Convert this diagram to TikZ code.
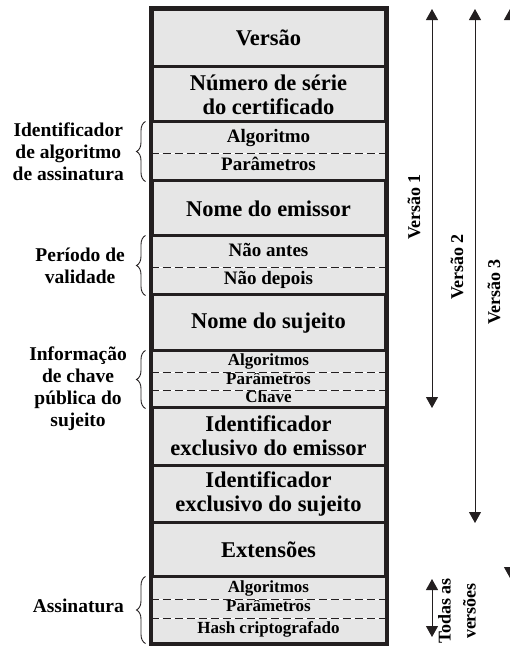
\documentclass[tikz,border=0pt]{standalone}
\usepackage{fontspec}
\setmainfont{Liberation Serif}
\usetikzlibrary{arrows.meta,positioning,fit,decorations.pathreplacing}
\definecolor{CertGray}{HTML}{E6E6E6}
\definecolor{CertInk}{HTML}{231F20}
\tikzset{
    % Main field of the certificate
    fieldnode/.style={
        draw=CertInk,
        fill=CertGray,
        line width=3pt,
        minimum width=233pt,
        inner sep=0pt,
        align=center,
        font=\fontsize{22.5}{24}\selectfont\bfseries
    },
    % Sub-field inside a group
    subnode/.style={
        fieldnode,
        draw=none,
        font=\fontsize{19}{20}\selectfont\bfseries,
        text height=13pt,
        text depth=4pt
    },
    % Small sub-field (key and signature)
    keynode/.style={
        subnode,
        font=\fontsize{17}{18}\selectfont\bfseries,
        text height=11.5pt,
        text depth=3.5pt
    },
    % Frame round a group of sub-fields
    groupbox/.style={
        draw=CertInk,
        line width=3pt,
        inner sep=0pt
    },
    % Dashed separator
    dashline/.style={
        draw=CertInk,
        line width=1.5pt,
        dash pattern=on 8pt off 4pt,
        preaction={draw=white, solid, line width=1.5pt}
    },
    % Label on the left
    sidelabel/.style={
        anchor=east,
        align=center,
        inner sep=0pt,
        font=\fontsize{19.5}{22}\selectfont\bfseries
    },
    % Curly brace
    sidebrace/.style={
        draw=CertInk,
        line width=0.9pt,
        decorate,
        decoration={brace, amplitude=9pt}
    },
    % Version arrow
    biarrow/.style={
        <->,
        >={Triangle[width=12pt,length=11pt]},
        line width=1pt,
        draw=CertInk
    },
    % Version label
    verlabel/.style={
        rotate=90,
        align=center,
        inner sep=0pt,
        font=\fontsize{18}{25}\selectfont\bfseries
    }
}
\begin{document}
\begin{tikzpicture}[x=1pt, y=-1pt]
    \useasboundingbox (0,0) rectangle (510,646);

    % Fields
    \node[fieldnode, minimum height=57pt] (versao) at (268.5,37.5) {Versão};
    \node[fieldnode, minimum height=57pt] (serie) at (268.5,94.5) {Número de série\\do certificado};
    \node[subnode, minimum height=29pt] (algid) at (268.5,137.5) {Algoritmo};
    \node[subnode, minimum height=28pt] (algpar) at (268.5,166) {Parâmetros};
    \node[groupbox, fit=(algid)(algpar)] (alggrp) {};
    \draw[dashline] (algid.south west) -- (algid.south east);
    \node[fieldnode, minimum height=57pt] (emissor) at (268.5,208.5) {Nome do emissor};
    \node[subnode, minimum height=29pt] (antes) at (268.5,251.5) {Não antes};
    \node[subnode, minimum height=28pt] (depois) at (268.5,280) {Não depois};
    \node[groupbox, fit=(antes)(depois)] (valgrp) {};
    \draw[dashline] (antes.south west) -- (antes.south east);
    \node[fieldnode, minimum height=58pt] (sujeito) at (268.5,323) {Nome do sujeito};
    \node[keynode, minimum height=19pt] (pkalg) at (268.5,361.5) {Algoritmos};
    \node[keynode, minimum height=18pt] (pkpar) at (268.5,380) {Parâmetros};
    \node[keynode, minimum height=18pt] (pkkey) at (268.5,398) {Chave};
    \node[groupbox, fit=(pkalg)(pkkey)] (pkgrp) {};
    \draw[dashline] (pkalg.south west) -- (pkalg.south east);
    \draw[dashline] (pkpar.south west) -- (pkpar.south east);
    \node[fieldnode, minimum height=58pt] (uidem) at (268.5,436) {Identificador\\exclusivo do emissor};
    \node[fieldnode, minimum height=57pt] (uidsu) at (268.5,493.5) {Identificador\\exclusivo do sujeito};
    \node[fieldnode, minimum height=56pt] (ext) at (268.5,550) {Extensões};
    \node[keynode, minimum height=20pt] (sgalg) at (268.5,588) {Algoritmos};
    \node[keynode, minimum height=19pt] (sgpar) at (268.5,607.5) {Parâmetros};
    \node[keynode, minimum height=25pt] (sghash) at (268.5,629.5) {Hash criptografado};
    \node[groupbox, fit=(sgalg)(sghash)] (sggrp) {};
    \draw[dashline] (sgalg.south west) -- (sgalg.south east);
    \draw[dashline] (sgpar.south west) -- (sgpar.south east);
    \draw[draw=CertInk, line width=4pt] (versao.north west) rectangle (sghash.south east);

    % Labels and braces on the left
    \node[sidelabel] (lblalg) at (124,152) {Identificador\\de algoritmo\\de assinatura};
    \node[sidelabel] (lblval) at (125,266) {Período de\\validade};
    \node[sidelabel] (lblkey) at (127,389) {Informação\\de chave\\pública do\\sujeito};
    \node[sidelabel] (lblsig) at (124,606) {Assinatura};
    \draw[sidebrace] ([xshift=-5pt]algpar.south west) -- ([xshift=-5pt]algid.north west);
    \draw[sidebrace] ([xshift=-5pt]depois.south west) -- ([xshift=-5pt]antes.north west);
    \draw[sidebrace] ([xshift=-5pt]pkkey.south west) -- ([xshift=-5pt]pkalg.north west);
    \draw[sidebrace] ([xshift=-5pt]sghash.south west) -- ([xshift=-5pt]sgalg.north west);

    % Versions on the right
    \coordinate (v1top) at (432,9);
    \coordinate (v1bot) at (432,408);
    \coordinate (v2top) at (475,9);
    \coordinate (v2bot) at (475,523);
    \coordinate (v3top) at (510,9);
    \coordinate (v3bot) at (510,578);
    \coordinate (alltop) at (432,579);
    \coordinate (allbot) at (432,637);
    \draw[biarrow] (v1top) -- (v1bot);
    \draw[biarrow] (v2top) -- (v2bot);
    \draw[biarrow] (v3top) -- (v3bot);
    \draw[biarrow] (alltop) -- (allbot);
    \node[verlabel] (v1lab) at (414,207) {Versão 1};
    \node[verlabel] (v2lab) at (457,267) {Versão 2};
    \node[verlabel] (v3lab) at (494,292) {Versão 3};
    \node[verlabel] (alllab) at (457,611) {Todas as\\versões};
\end{tikzpicture}
\end{document}
